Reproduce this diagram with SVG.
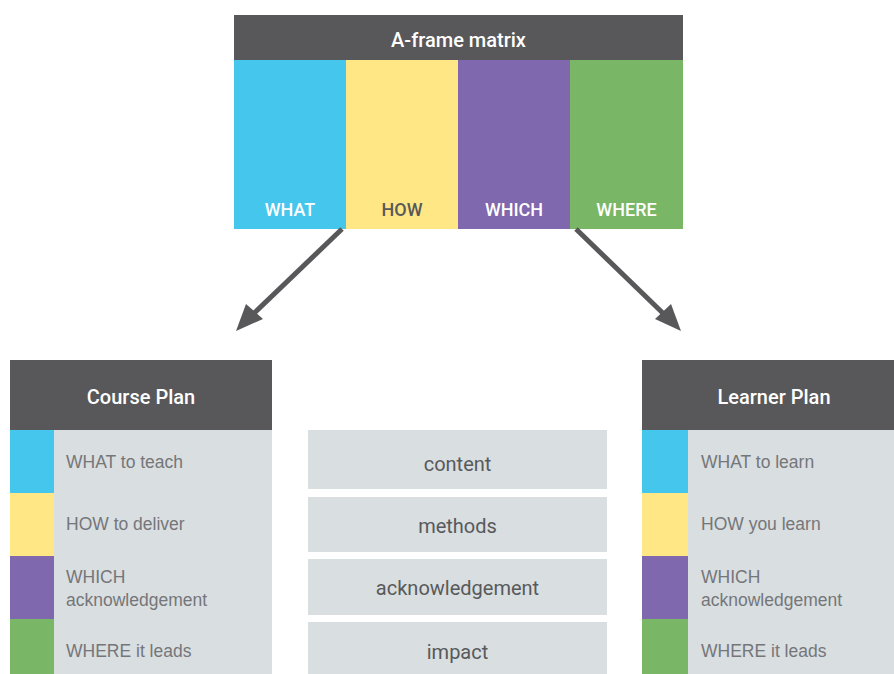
<svg xmlns="http://www.w3.org/2000/svg" width="894" height="674" viewBox="0 0 894 674">
<defs>
<style>
.hdr{fill:#58585a}
.c1{fill:#45c6ec}.c2{fill:#fee784}.c3{fill:#7f68ae}.c4{fill:#79b665}
.lg{fill:#d9dee0}
.ht{font-family:Roboto,"DejaVu Sans",sans-serif;font-weight:500;font-size:20px;fill:#ffffff;text-anchor:middle}
.ct{font-family:Roboto,"DejaVu Sans",sans-serif;font-weight:500;font-size:18px;fill:#ffffff;text-anchor:middle}
.rt{font-family:"Liberation Sans",Arial,sans-serif;font-size:17.5px;fill:#75767a}
.mt{font-family:Roboto,"DejaVu Sans",sans-serif;font-size:20px;fill:#58595b;text-anchor:middle}
.arr{stroke:#58585a;stroke-width:5;fill:none}
</style>
</defs>
<rect width="894" height="674" fill="#ffffff"/>

<g id="matrix">
<rect class="hdr" x="234" y="15" width="449" height="45"/>
<text class="ht" x="458.5" y="47">A-frame matrix</text>
<rect class="c1" x="234" y="60" width="112" height="169"/>
<rect class="c2" x="346" y="60" width="112" height="169"/>
<rect class="c3" x="458" y="60" width="112" height="169"/>
<rect class="c4" x="570" y="60" width="113" height="169"/>
<text class="ct" x="290" y="216">WHAT</text>
<text class="ct" x="402" y="216" style="fill:#58595b">HOW</text>
<text class="ct" x="514" y="216">WHICH</text>
<text class="ct" x="626.5" y="216">WHERE</text>
</g>

<g id="connectors">
<line class="arr" x1="342" y1="229" x2="247" y2="320"/>
<polygon points="236,331 246,304 263,319" fill="#58585a"/>
<line class="arr" x1="576" y1="229" x2="670" y2="320"/>
<polygon points="681,331 655,319 671,304" fill="#58585a"/>
</g>

<g id="course-plan">
<rect class="hdr" x="10" y="360" width="262" height="70"/>
<text class="ht" x="141" y="404">Course Plan</text>
<rect class="lg" x="54" y="430" width="218" height="244"/>
<rect class="c1" x="10" y="430" width="44" height="63"/>
<rect class="c2" x="10" y="493" width="44" height="63"/>
<rect class="c3" x="10" y="556" width="44" height="63"/>
<rect class="c4" x="10" y="619" width="44" height="55"/>
<text class="rt" x="66" y="468">WHAT to teach</text>
<text class="rt" x="66" y="530">HOW to deliver</text>
<text class="rt" x="66" y="583">WHICH</text>
<text class="rt" x="66" y="606">acknowledgement</text>
<text class="rt" x="66" y="657">WHERE it leads</text>
</g>

<g id="middle">
<rect class="lg" x="308" y="430" width="299" height="59"/>
<text class="mt" x="457.5" y="471">content</text>
<rect class="lg" x="308" y="497" width="299" height="55"/>
<text class="mt" x="457.5" y="533">methods</text>
<rect class="lg" x="308" y="559" width="299" height="56"/>
<text class="mt" x="457.5" y="595">acknowledgement</text>
<rect class="lg" x="308" y="622" width="299" height="52"/>
<text class="mt" x="457.5" y="659">impact</text>
</g>

<g id="learner-plan">
<rect class="hdr" x="642" y="360" width="262" height="70"/>
<text class="ht" x="774" y="404">Learner Plan</text>
<rect class="lg" x="688" y="430" width="216" height="244"/>
<rect class="c1" x="642" y="430" width="46" height="63"/>
<rect class="c2" x="642" y="493" width="46" height="63"/>
<rect class="c3" x="642" y="556" width="46" height="63"/>
<rect class="c4" x="642" y="619" width="46" height="55"/>
<text class="rt" x="701" y="468">WHAT to learn</text>
<text class="rt" x="701" y="530">HOW you learn</text>
<text class="rt" x="701" y="583">WHICH</text>
<text class="rt" x="701" y="606">acknowledgement</text>
<text class="rt" x="701" y="657">WHERE it leads</text>
</g>
</svg>
